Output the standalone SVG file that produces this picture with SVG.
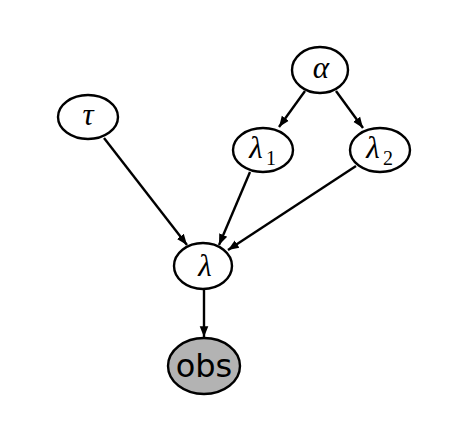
<svg xmlns="http://www.w3.org/2000/svg" width="466" height="426" viewBox="0 0 466 426">
  <style>
    .node { fill: #ffffff; stroke: #000000; stroke-width: 2.4; }
    .obs { fill: #b3b3b3; stroke: #000000; stroke-width: 2.4; }
    .edge { stroke: #000000; stroke-width: 2.4; fill: none; marker-end: url(#head); }
    .math { font-family: "Liberation Serif", "DejaVu Serif", serif; font-style: italic; font-size: 31px; fill: #000; }
    .sub { font-family: "Liberation Serif", "DejaVu Serif", serif; font-size: 20px; fill: #000; }
    .label { font-family: "DejaVu Sans", "Liberation Sans", sans-serif; font-size: 32px; fill: #000; }
  </style>
  <defs>
    <marker id="head" viewBox="0 0 10 10" refX="10" refY="5" markerWidth="4.5" markerHeight="4.5" orient="auto" markerUnits="strokeWidth">
      <path d="M0,1 L10,5 L0,9 z" fill="#000"/>
    </marker>
  </defs>
  <rect width="466" height="426" fill="#ffffff"/>

  <g id="edges">
    <line class="edge" x1="305" y1="91" x2="279" y2="127"/>
    <line class="edge" x1="336" y1="91" x2="363" y2="128"/>
    <line class="edge" x1="104" y1="138" x2="187" y2="245"/>
    <line class="edge" x1="250" y1="172" x2="219" y2="245"/>
    <line class="edge" x1="356" y1="166" x2="228" y2="250"/>
    <line class="edge" x1="204" y1="289" x2="204" y2="337"/>
  </g>

  <g id="alpha">
    <ellipse class="node" cx="320" cy="70" rx="28" ry="23"/>
    <text class="math" x="321" y="78" text-anchor="middle">α</text>
  </g>
  <g id="tau">
    <ellipse class="node" cx="88" cy="117" rx="30" ry="22"/>
    <text class="math" x="88" y="125" text-anchor="middle">τ</text>
  </g>
  <g id="lambda1">
    <ellipse class="node" cx="263" cy="150" rx="30" ry="22"/>
    <text class="math" x="256" y="158" text-anchor="middle">λ</text>
    <text class="sub" x="271" y="165" text-anchor="middle">1</text>
  </g>
  <g id="lambda2">
    <ellipse class="node" cx="380" cy="150" rx="30" ry="22"/>
    <text class="math" x="373" y="158" text-anchor="middle">λ</text>
    <text class="sub" x="388" y="165" text-anchor="middle">2</text>
  </g>
  <g id="lambda">
    <ellipse class="node" cx="203" cy="266" rx="29" ry="23"/>
    <text class="math" x="205" y="276" text-anchor="middle">λ</text>
  </g>
  <g id="obs">
    <ellipse class="obs" cx="204" cy="366" rx="36" ry="28"/>
    <text class="label" x="204" y="377" text-anchor="middle">obs</text>
  </g>
</svg>
